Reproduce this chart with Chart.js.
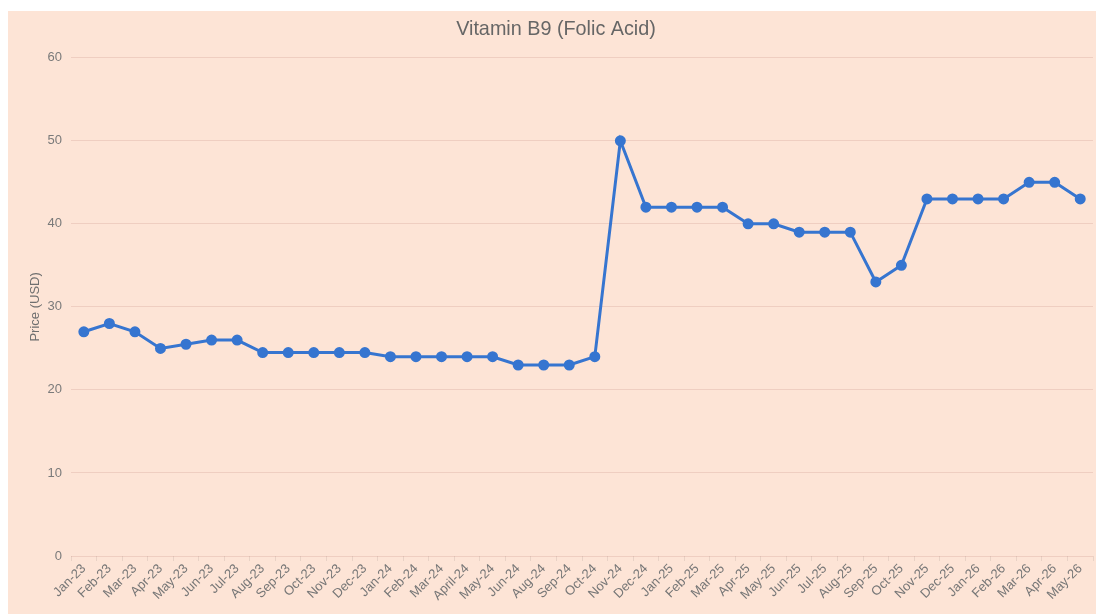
<!DOCTYPE html>
<html>
<head>
<meta charset="utf-8">
<title>Vitamin B9 (Folic Acid)</title>
<script src="https://cdn.jsdelivr.net/npm/chart.js@4/dist/chart.umd.min.js"></script>
<style>
  html, body { margin: 0; padding: 0; background: #fff; }
  #wrap {
    position: absolute; left: 8px; top: 11px;
    width: 1088px; height: 603px;
    background: #fde4d6;
  }
</style>
</head>
<body>
<div id="wrap"><canvas id="priceChart"></canvas></div>
<script>
  // months as labelled on the source chart (Jul-24 is missing there too)
  const months = [
    'Jan-23', 'Feb-23', 'Mar-23', 'Apr-23', 'May-23', 'Jun-23', 'Jul-23', 'Aug-23',
    'Sep-23', 'Oct-23', 'Nov-23', 'Dec-23', 'Jan-24', 'Feb-24', 'Mar-24', 'April-24',
    'May-24', 'Jun-24', 'Aug-24', 'Sep-24', 'Oct-24', 'Nov-24', 'Dec-24', 'Jan-25',
    'Feb-25', 'Mar-25', 'Apr-25', 'May-25', 'Jun-25', 'Jul-25', 'Aug-25', 'Sep-25',
    'Oct-25', 'Nov-25', 'Dec-25', 'Jan-26', 'Feb-26', 'Mar-26', 'Apr-26', 'May-26'
  ];

  // price in USD
  const prices = [
    27, 28, 27, 25, 25.5, 26, 26, 24.5,
    24.5, 24.5, 24.5, 24.5, 24, 24, 24, 24,
    24, 23, 23, 23, 24, 50, 42, 42,
    42, 42, 40, 40, 39, 39, 39, 33,
    35, 43, 43, 43, 43, 45, 45, 43
  ];

  const yTicks = [0, 10, 20, 30, 40, 50, 60];

  const blue = '#3675d0';
  const font = 'Liberation Sans, Arial, sans-serif';

  const ctx = document.getElementById('priceChart').getContext('2d');
  new Chart(ctx, {
    type: 'line',
    data: {
      labels: months,
      datasets: [{
        label: 'Price',
        data: prices,
        borderColor: blue,
        backgroundColor: blue,
        borderWidth: 3,
        pointRadius: 4,
        pointHoverRadius: 5,
        tension: 0,
        fill: false
      }]
    },
    options: {
      responsive: true,
      maintainAspectRatio: false,
      animation: false,
      layout: {
        autoPadding: false,
        padding: { top: 7, right: 3, left: 11, bottom: 0 }
      },
      plugins: {
        legend: { display: false },
        title: {
          display: true,
          text: 'Vitamin B9 (Folic Acid)',
          color: '#666',
          font: { size: 19.8, weight: 'normal', family: font },
          padding: { top: 0, bottom: 16 }
        },
        tooltip: { enabled: false }
      },
      scales: {
        x: {
          offset: true,
          afterFit: (axis) => {
            axis.height = 58;
            axis.paddingRight = 0;
          },
          grid: {
            offset: true,
            drawOnChartArea: false,
            drawTicks: true,
            tickLength: 5,
            color: 'rgba(0,0,0,0.08)'
          },
          border: { display: false },
          ticks: {
            color: '#777',
            font: { size: 13, family: font },
            minRotation: 45,
            maxRotation: 45,
            autoSkip: false,
            padding: 0
          }
        },
        y: {
          min: yTicks[0],
          max: yTicks[yTicks.length - 1],
          afterBuildTicks: (axis) => { axis.ticks = yTicks.map(v => ({ value: v })); },
          afterFit: (axis) => { axis.width -= 5; },
          grid: {
            color: 'rgba(200,140,130,0.25)',
            drawTicks: false
          },
          border: { display: false },
          ticks: {
            color: '#7a7a7a',
            font: { size: 13, family: font },
            padding: 9
          },
          title: {
            display: true,
            text: 'Price (USD)',
            color: '#6f6f6f',
            font: { size: 13, family: font },
            padding: { top: 9, bottom: 0 }
          }
        }
      }
    }
  });
</script>
</body>
</html>
